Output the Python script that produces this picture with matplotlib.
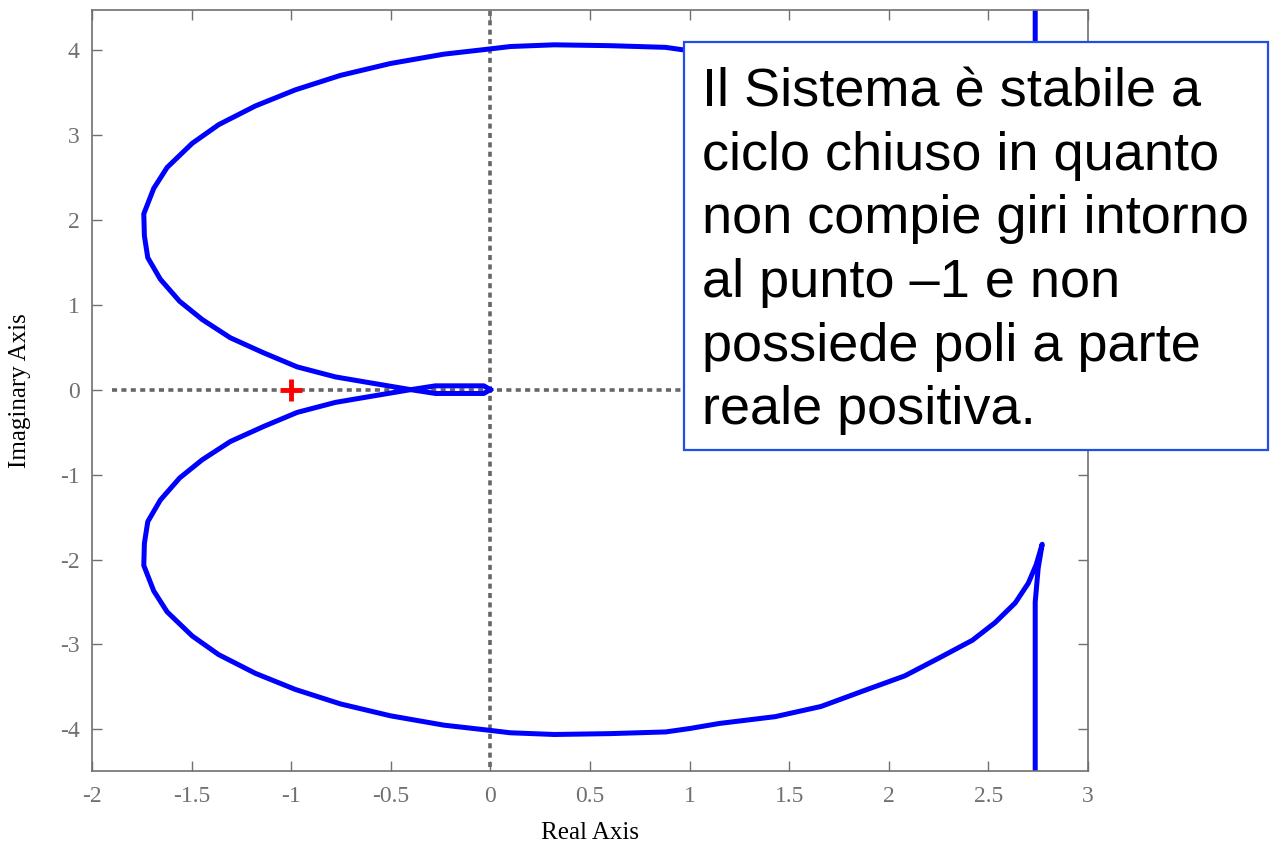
import matplotlib.pyplot as plt
from matplotlib.patches import Rectangle

plt.rcParams['axes.unicode_minus'] = False

# ramo per omega > 0, l'altro e' il simmetrico
re_ramo = [2.735, 2.735, 2.75, 2.77, 2.74, 2.70, 2.635, 2.535, 2.42, 2.26, 2.08, 1.88,
           1.66, 1.43, 1.15, 1.0, 0.88, 0.6, 0.32, 0.10, -0.008, -0.234, -0.502, -0.753,
           -0.979, -1.18, -1.364, -1.497, -1.623, -1.69, -1.74, -1.737, -1.72, -1.657,
           -1.56, -1.447, -1.305, -1.138, -0.97, -0.778, -0.60, -0.40, -0.276, -0.033, 0.0]
im_ramo = [-6.0, -2.5, -2.1, -1.82, -2.06, -2.28, -2.51, -2.74, -2.95, -3.15, -3.37, -3.54,
           -3.73, -3.85, -3.93, -3.99, -4.03, -4.05, -4.06, -4.04, -4.01, -3.95, -3.84, -3.70,
           -3.53, -3.34, -3.12, -2.90, -2.616, -2.37, -2.07, -1.81, -1.554, -1.30,
           -1.04, -0.826, -0.61, -0.433, -0.268, -0.15, -0.079, 0.0, 0.045, 0.045, 0.0]

testo = ("Il Sistema è stabile a\n"
         "ciclo chiuso in quanto\n"
         "non compie giri intorno\n"
         "al punto \u20131 e non\n"
         "possiede poli a parte\n"
         "reale positiva.")

fig = plt.figure(figsize=(12.74, 8.46), dpi=100)
ax = fig.add_axes([92 / 1274, 75 / 846, 996 / 1274, 761 / 846])

grigio = '#666666'
ax.plot([-1.9, 3.2], [0, 0], color=grigio, lw=2.6, linestyle=(0, (1.4, 1.2)), zorder=1)
ax.plot([0, 0], [-5, 5], color=grigio, lw=2.6, linestyle=(0, (1.4, 1.2)), zorder=1)

ax.plot(re_ramo, im_ramo, color='#0000ff', lw=3.6, zorder=2)
ax.plot(re_ramo, [-v for v in im_ramo], color='#0000ff', lw=3.6, zorder=2)

ax.plot(-1, 0, marker='+', color='red', markersize=16, mew=3.5, zorder=3)

ax.set_xlim(-2, 3)
ax.set_ylim(-4.49, 4.47)
ax.set_xticks([-2, -1.5, -1, -0.5, 0, 0.5, 1, 1.5, 2, 2.5, 3])
ax.set_xticklabels(['-2', '-1.5', '-1', '-0.5', '0', '0.5', '1', '1.5', '2', '2.5', '3'])
ax.set_yticks([-4, -3, -2, -1, 0, 1, 2, 3, 4])

for s in ax.spines.values():
    s.set_color('#707070')
    s.set_linewidth(1.2)
ax.tick_params(direction='in', top=True, right=True, length=7, width=1, color='#707070',
               labelcolor='#707070', labelsize=17)
ax.tick_params(axis='x', pad=11)
ax.tick_params(axis='y', pad=9)
for lab in ax.get_xticklabels() + ax.get_yticklabels():
    lab.set_family('Liberation Serif')

ax.set_xlabel('Real Axis', family='Liberation Serif', fontsize=18, va='center')
ax.set_ylabel('Imaginary Axis', family='Liberation Serif', fontsize=18, va='center')
ax.xaxis.set_label_coords(0.5, (771 - 833) / 761)
ax.yaxis.set_label_coords((20 - 92) / 996, 0.5)

fig.patches.append(Rectangle((684 / 1274, 1 - 450 / 846), 584 / 1274, 408 / 846,
                             transform=fig.transFigure, facecolor='white',
                             edgecolor='#1f4fe8', lw=1.6, zorder=5))
fig.text(702 / 1274, 1 - 67 / 846, testo, family='Liberation Sans', fontsize=39,
         va='top', ha='left', linespacing=1.35, zorder=6)

fig.savefig('out.png', dpi=100)
